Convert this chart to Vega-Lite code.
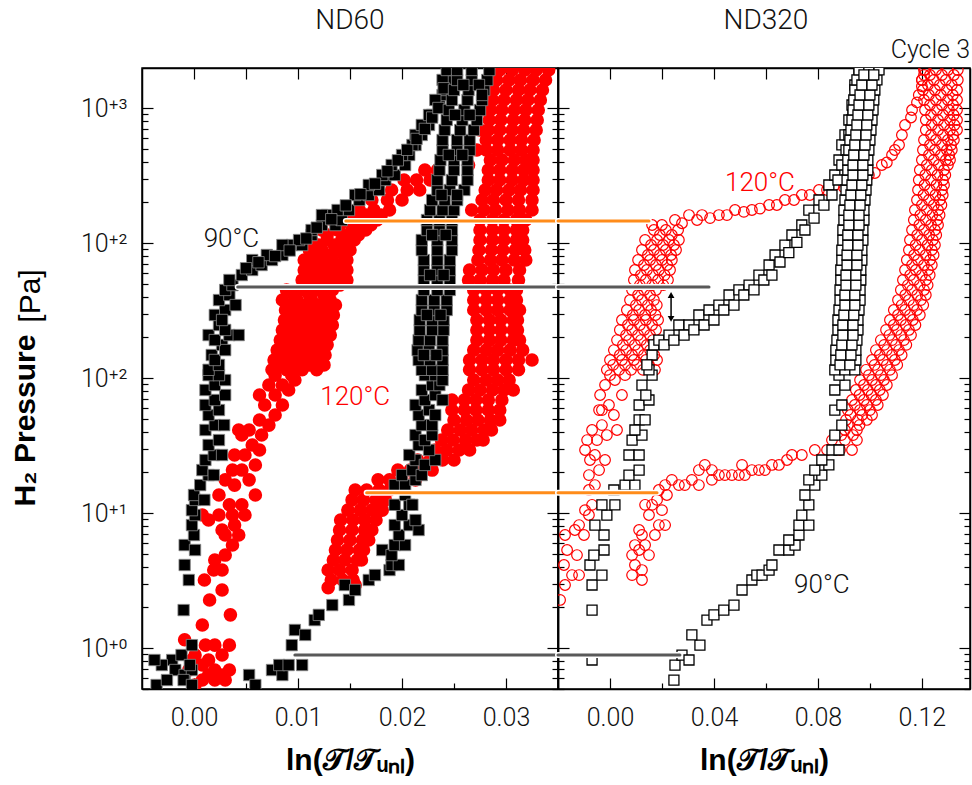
{
"$schema":"https://vega.github.io/schema/vega-lite/v6.json",
"background":"white",
"padding":{"left":9,"right":0,"top":6,"bottom":0},
"spacing":0,
"bounds":"flush",
"config":{"view":{"stroke":"black","strokeWidth":1.5},
"axis":{"grid":false,"domainColor":"black","domainWidth":1.5,"tickColor":"black","tickWidth":1.2,"labelFont":"Roboto","labelFontWeight":300,"labelFontSize":25,"labelColor":"#111111","titleFont":"Liberation Sans","titleFontWeight":"bold","titleColor":"black","labelOverlap":false,"labelFlush":false}},
"datasets":{
"nd60":[
{"T":90,"x":-0.0021,"p":0.815},{"T":90,"x":-0.0012,"p":0.887},{"T":90,"x":-0.0002,"p":1.05},{"T":90,"x":-0.0018,"p":0.687},{"T":90,"x":-0.0009,"p":0.631},{"T":90,"x":-0.0002,"p":0.687},{"T":90,"x":-0.001,"p":0.579},{"T":90,"x":-0.0002,"p":0.532},{"T":90,"x":-0.0004,"p":0.748},{"T":90,"x":-0.0036,"p":0.532},{"T":90,"x":-0.0031,"p":0.748},{"T":90,"x":-0.0026,"p":0.579},{"T":90,"x":-0.0038,"p":0.815},
{"T":90,"x":-0.001,"p":1.91},{"T":90,"x":-0.0005,"p":3.19},{"T":90,"x":-0.0009,"p":4.12},{"T":90,"x":-0.0009,"p":5.79},{"T":90,"x":0.0001,"p":5.32},{"T":90,"x":0.0,"p":6.87},{"T":90,"x":-0.0002,"p":8.14},{"T":90,"x":0.0001,"p":9.66},{"T":90,"x":-0.0002,"p":10.5},{"T":90,"x":0.0001,"p":12.5},{"T":90,"x":0.0,"p":13.6},{"T":90,"x":0.001,"p":12.5},{"T":90,"x":0.0006,"p":16.1},{"T":90,"x":0.0014,"p":19.1},{"T":90,"x":0.0008,"p":20.8},{"T":90,"x":0.0019,"p":19.1},{"T":90,"x":0.0011,"p":24.7},{"T":90,"x":0.0019,"p":26.9},{"T":90,"x":0.0027,"p":26.9},{"T":90,"x":0.0014,"p":31.9},{"T":90,"x":0.0024,"p":34.7},{"T":90,"x":0.0011,"p":41.2},{"T":90,"x":0.002,"p":44.8},{"T":90,"x":0.0029,"p":44.8},{"T":90,"x":0.0014,"p":53.2},{"T":90,"x":0.0024,"p":57.9},{"T":90,"x":0.0011,"p":63.1},{"T":90,"x":0.002,"p":68.7},{"T":90,"x":0.003,"p":74.8},{"T":90,"x":0.0011,"p":81.5},{"T":90,"x":0.002,"p":88.7},{"T":90,"x":0.003,"p":96.6},{"T":90,"x":0.0014,"p":105},{"T":90,"x":0.0024,"p":105},{"T":90,"x":0.0014,"p":115},{"T":90,"x":0.0024,"p":125},{"T":90,"x":0.0017,"p":148},{"T":90,"x":0.0027,"p":176},{"T":90,"x":0.0014,"p":208},{"T":90,"x":0.0024,"p":247},{"T":90,"x":0.0034,"p":208},{"T":90,"x":0.002,"p":293},{"T":90,"x":0.003,"p":319},{"T":90,"x":0.0043,"p":208},{"T":90,"x":0.0024,"p":378},{"T":90,"x":0.0034,"p":412},{"T":90,"x":0.003,"p":449},{"T":90,"x":0.0037,"p":488},{"T":90,"x":0.002,"p":136},{"T":90,"x":0.003,"p":161},{"T":90,"x":0.002,"p":191},{"T":90,"x":0.003,"p":227},{"T":90,"x":0.0027,"p":269},{"T":90,"x":0.004,"p":347},{"T":90,"x":0.0034,"p":532},
{"T":90,"x":0.0046,"p":579},{"T":90,"x":0.0056,"p":631},{"T":90,"x":0.0065,"p":687},{"T":90,"x":0.0075,"p":748},{"T":90,"x":0.0085,"p":815},{"T":90,"x":0.0094,"p":966},{"T":90,"x":0.0104,"p":966},{"T":90,"x":0.0113,"p":1146},{"T":90,"x":0.0123,"p":1359},{"T":90,"x":0.0128,"p":1611},{"T":90,"x":0.0136,"p":1359},{"T":90,"x":0.0142,"p":1480},{"T":90,"x":0.0149,"p":1755},{"T":90,"x":0.0159,"p":2082},{"T":90,"x":0.0168,"p":2267},{"T":90,"x":0.0178,"p":2470},{"T":90,"x":0.0184,"p":2929},{"T":90,"x":0.0193,"p":3190},{"T":90,"x":0.0203,"p":3784},{"T":90,"x":0.0207,"p":4488},{"T":90,"x":0.0213,"p":5323},{"T":90,"x":0.0219,"p":6313},{"T":90,"x":0.0226,"p":7487},{"T":90,"x":0.0229,"p":8880},{"T":90,"x":0.0236,"p":10530},{"T":90,"x":0.0239,"p":12490},{"T":90,"x":0.0241,"p":13600},{"T":90,"x":0.0248,"p":16130},{"T":90,"x":0.0251,"p":19130},
{"T":90,"x":0.0056,"p":748},{"T":90,"x":0.007,"p":815},{"T":90,"x":0.0085,"p":966},{"T":90,"x":0.0101,"p":1052},{"T":90,"x":0.0113,"p":1248},{"T":90,"x":0.0123,"p":1611},{"T":90,"x":0.0138,"p":1755},{"T":90,"x":0.0155,"p":2267},{"T":90,"x":0.0168,"p":2690},{"T":90,"x":0.0181,"p":3190},{"T":90,"x":0.019,"p":3784},{"T":90,"x":0.02,"p":4488},{"T":90,"x":0.021,"p":5323},{"T":90,"x":0.0213,"p":6313},{"T":90,"x":0.0219,"p":7487},{"T":90,"x":0.0226,"p":8880},{"T":90,"x":0.0232,"p":11470},{"T":90,"x":0.0239,"p":16130},{"T":90,"x":0.0243,"p":19130},
{"T":90,"x":0.005,"p":650},{"T":90,"x":0.0062,"p":720},{"T":90,"x":0.0078,"p":800},{"T":90,"x":0.0092,"p":880},{"T":90,"x":0.0108,"p":1080},{"T":90,"x":0.0118,"p":1300},{"T":90,"x":0.0132,"p":1500},{"T":90,"x":0.0146,"p":1900},{"T":90,"x":0.016,"p":2300},{"T":90,"x":0.0174,"p":2750},{"T":90,"x":0.0186,"p":3400},{"T":90,"x":0.0196,"p":4100},{"T":90,"x":0.0205,"p":4900},{"T":90,"x":0.0214,"p":5900},{"T":90,"x":0.0222,"p":7000},{"T":90,"x":0.0229,"p":8500},{"T":90,"x":0.0235,"p":10000},{"T":90,"x":0.024,"p":14000},
{"T":90,"x":0.0053,"p":0.631},{"T":90,"x":0.0059,"p":0.532},{"T":90,"x":0.0075,"p":0.687},{"T":90,"x":0.0085,"p":0.631},{"T":90,"x":0.0082,"p":0.748},{"T":90,"x":0.0091,"p":0.748},{"T":90,"x":0.0104,"p":0.748},{"T":90,"x":0.0094,"p":1.05},{"T":90,"x":0.0097,"p":1.36},{"T":90,"x":0.0107,"p":1.25},{"T":90,"x":0.0116,"p":1.61},{"T":90,"x":0.012,"p":1.76},{"T":90,"x":0.0133,"p":2.08},{"T":90,"x":0.0149,"p":2.27},{"T":90,"x":0.0145,"p":2.93},{"T":90,"x":0.0155,"p":2.69},{"T":90,"x":0.0168,"p":3.19},{"T":90,"x":0.0174,"p":3.47},{"T":90,"x":0.0188,"p":3.78},{"T":90,"x":0.019,"p":4.12},{"T":90,"x":0.0197,"p":4.12},{"T":90,"x":0.0181,"p":5.32},{"T":90,"x":0.019,"p":4.88},{"T":90,"x":0.0193,"p":5.79},{"T":90,"x":0.0203,"p":5.79},{"T":90,"x":0.0197,"p":6.87},{"T":90,"x":0.0207,"p":8.14},{"T":90,"x":0.0216,"p":7.48},{"T":90,"x":0.0213,"p":8.87},{"T":90,"x":0.0193,"p":8.14},{"T":90,"x":0.02,"p":9.66},{"T":90,"x":0.0207,"p":11.5},{"T":90,"x":0.0193,"p":11.5},{"T":90,"x":0.0203,"p":13.6},{"T":90,"x":0.021,"p":11.5},{"T":90,"x":0.0193,"p":16.1},{"T":90,"x":0.0203,"p":16.1},{"T":90,"x":0.0213,"p":17.6},{"T":90,"x":0.02,"p":19.1},{"T":90,"x":0.021,"p":20.8},{"T":90,"x":0.0219,"p":19.1},{"T":90,"x":0.0213,"p":24.7},{"T":90,"x":0.0222,"p":22.7},{"T":90,"x":0.0232,"p":24.7},{"T":90,"x":0.0207,"p":26.9},{"T":90,"x":0.0216,"p":31.9},{"T":90,"x":0.0226,"p":29.3},{"T":90,"x":0.0213,"p":37.8},{"T":90,"x":0.0222,"p":34.7},{"T":90,"x":0.0229,"p":37.8},{"T":90,"x":0.0219,"p":44.8},{"T":90,"x":0.0229,"p":44.8},{"T":90,"x":0.0216,"p":53.2},{"T":90,"x":0.0226,"p":57.9},{"T":90,"x":0.0232,"p":53.2},{"T":90,"x":0.0213,"p":63.1},{"T":90,"x":0.0222,"p":68.7},{"T":90,"x":0.0232,"p":74.8},{"T":90,"x":0.0239,"p":68.7},{"T":90,"x":0.0219,"p":81.5},{"T":90,"x":0.0229,"p":88.7},{"T":90,"x":0.0236,"p":88.7},{"T":90,"x":0.0222,"p":105},{"T":90,"x":0.0232,"p":105},{"T":90,"x":0.0239,"p":96.6},
{"T":90,"x":0.0219,"p":115},{"T":90,"x":0.0229,"p":115},{"T":90,"x":0.0239,"p":115},
{"T":90,"x":0.0216,"p":136},{"T":90,"x":0.0227,"p":136},{"T":90,"x":0.0239,"p":136},
{"T":90,"x":0.0215,"p":161},{"T":90,"x":0.0226,"p":161},{"T":90,"x":0.0239,"p":161},
{"T":90,"x":0.0216,"p":191},{"T":90,"x":0.0227,"p":191},{"T":90,"x":0.0239,"p":191},
{"T":90,"x":0.0217,"p":227},{"T":90,"x":0.0229,"p":227},{"T":90,"x":0.024,"p":227},
{"T":90,"x":0.0217,"p":269},{"T":90,"x":0.0229,"p":269},{"T":90,"x":0.024,"p":269},
{"T":90,"x":0.0219,"p":319},{"T":90,"x":0.0231,"p":319},{"T":90,"x":0.0243,"p":319},
{"T":90,"x":0.0219,"p":378},{"T":90,"x":0.0231,"p":378},{"T":90,"x":0.0243,"p":378},
{"T":90,"x":0.0221,"p":449},{"T":90,"x":0.0234,"p":449},{"T":90,"x":0.0246,"p":449},
{"T":90,"x":0.0221,"p":532},{"T":90,"x":0.0234,"p":532},{"T":90,"x":0.0246,"p":532},
{"T":90,"x":0.0221,"p":631},{"T":90,"x":0.0234,"p":631},{"T":90,"x":0.0246,"p":631},
{"T":90,"x":0.0221,"p":748},{"T":90,"x":0.0234,"p":748},{"T":90,"x":0.0246,"p":748},
{"T":90,"x":0.0219,"p":887},{"T":90,"x":0.0234,"p":887},{"T":90,"x":0.0248,"p":887},
{"T":90,"x":0.0219,"p":1052},{"T":90,"x":0.0234,"p":1052},{"T":90,"x":0.0248,"p":1052},
{"T":90,"x":0.0224,"p":1248},{"T":90,"x":0.0236,"p":1248},{"T":90,"x":0.0248,"p":1248},
{"T":90,"x":0.0224,"p":1480},{"T":90,"x":0.0236,"p":1480},{"T":90,"x":0.0248,"p":1480},
{"T":90,"x":0.0227,"p":1755},{"T":90,"x":0.0239,"p":1755},{"T":90,"x":0.025,"p":1755},
{"T":90,"x":0.0229,"p":2082},{"T":90,"x":0.0241,"p":2082},{"T":90,"x":0.0253,"p":2082},
{"T":90,"x":0.0234,"p":2470},{"T":90,"x":0.0246,"p":2470},{"T":90,"x":0.026,"p":2470},
{"T":90,"x":0.0234,"p":2929},{"T":90,"x":0.0248,"p":2929},{"T":90,"x":0.0263,"p":2929},
{"T":90,"x":0.0236,"p":3474},{"T":90,"x":0.025,"p":3474},{"T":90,"x":0.0263,"p":3474},
{"T":90,"x":0.0237,"p":4120},{"T":90,"x":0.025,"p":4120},{"T":90,"x":0.0263,"p":4120},
{"T":90,"x":0.0239,"p":4887},{"T":90,"x":0.0253,"p":4887},{"T":90,"x":0.0265,"p":4887},
{"T":90,"x":0.0239,"p":5796},{"T":90,"x":0.0253,"p":5796},{"T":90,"x":0.0265,"p":5796},
{"T":90,"x":0.0241,"p":6874},{"T":90,"x":0.0256,"p":6874},{"T":90,"x":0.0269,"p":6874},
{"T":90,"x":0.0243,"p":8153},{"T":90,"x":0.0258,"p":8153},{"T":90,"x":0.0272,"p":8153},
{"T":90,"x":0.0245,"p":9670},{"T":90,"x":0.026,"p":9670},{"T":90,"x":0.0275,"p":9670},
{"T":90,"x":0.0248,"p":11470},{"T":90,"x":0.0263,"p":11470},{"T":90,"x":0.0277,"p":11470},
{"T":90,"x":0.025,"p":13600},{"T":90,"x":0.0264,"p":13600},{"T":90,"x":0.0279,"p":13600},
{"T":90,"x":0.0253,"p":16130},{"T":90,"x":0.0267,"p":16130},{"T":90,"x":0.0282,"p":16130},
{"T":90,"x":0.0253,"p":19130},{"T":90,"x":0.0267,"p":19130},{"T":90,"x":0.0284,"p":19130},
{"T":90,"x":0.0221,"p":148},{"T":90,"x":0.0233,"p":148},{"T":90,"x":0.0224,"p":293},{"T":90,"x":0.0237,"p":293},{"T":90,"x":0.0227,"p":579},{"T":90,"x":0.024,"p":579},{"T":90,"x":0.0229,"p":1146},{"T":90,"x":0.0242,"p":1146},{"T":90,"x":0.0238,"p":2267},{"T":90,"x":0.0253,"p":2267},{"T":90,"x":0.0245,"p":4488},{"T":90,"x":0.0258,"p":4488},{"T":90,"x":0.0251,"p":8880},{"T":90,"x":0.0265,"p":8880},{"T":90,"x":0.0259,"p":14810},{"T":90,"x":0.0274,"p":14810},{"T":90,"x":0.0277,"p":12490},
{"T":120,"x":-0.0009,"p":1.15},{"T":120,"x":0.0011,"p":1.05},{"T":120,"x":0.002,"p":1.05},{"T":120,"x":0.0034,"p":1.05},{"T":120,"x":0.0001,"p":0.887},{"T":120,"x":0.0014,"p":0.815},{"T":120,"x":0.0027,"p":0.887},{"T":120,"x":-0.0005,"p":0.687},{"T":120,"x":0.0008,"p":0.748},{"T":120,"x":0.002,"p":0.687},{"T":120,"x":0.0034,"p":0.687},{"T":120,"x":0.0008,"p":0.579},{"T":120,"x":0.002,"p":0.579},{"T":120,"x":0.003,"p":0.579},{"T":120,"x":-0.0002,"p":0.815},{"T":120,"x":0.0014,"p":0.631},{"T":120,"x":0.0027,"p":0.631},{"T":120,"x":0.0001,"p":0.532},
{"T":120,"x":0.0008,"p":1.48},{"T":120,"x":0.0035,"p":1.76},{"T":120,"x":0.0015,"p":2.27},{"T":120,"x":0.0027,"p":2.69},{"T":120,"x":0.001,"p":3.19},{"T":120,"x":0.0019,"p":3.78},{"T":120,"x":0.0027,"p":3.78},{"T":120,"x":0.002,"p":4.49},{"T":120,"x":0.003,"p":4.88},{"T":120,"x":0.0037,"p":5.79},{"T":120,"x":0.003,"p":6.87},{"T":120,"x":0.0043,"p":6.87},{"T":120,"x":0.0027,"p":7.48},{"T":120,"x":0.0039,"p":8.14},{"T":120,"x":0.0049,"p":9.66},{"T":120,"x":0.0037,"p":9.66},{"T":120,"x":0.0024,"p":9.66},{"T":120,"x":0.0014,"p":8.87},{"T":120,"x":0.0008,"p":9.66},{"T":120,"x":0.0034,"p":11.5},{"T":120,"x":0.0046,"p":11.5},{"T":120,"x":0.0059,"p":13.6},{"T":120,"x":0.0024,"p":13.6},{"T":120,"x":0.0053,"p":17.6},{"T":120,"x":0.0039,"p":16.1},{"T":120,"x":0.003,"p":17.6},{"T":120,"x":0.0046,"p":20.8},{"T":120,"x":0.0059,"p":22.7},{"T":120,"x":0.0037,"p":20.8},{"T":120,"x":0.0049,"p":26.9},{"T":120,"x":0.0063,"p":29.3},{"T":120,"x":0.0039,"p":26.9},{"T":120,"x":0.0056,"p":31.9},{"T":120,"x":0.0046,"p":37.8},{"T":120,"x":0.0065,"p":37.8},{"T":120,"x":0.0053,"p":41.2},{"T":120,"x":0.0043,"p":41.2},{"T":120,"x":0.0072,"p":44.8},{"T":120,"x":0.0063,"p":48.9},{"T":120,"x":0.0078,"p":53.2},{"T":120,"x":0.0068,"p":63.1},{"T":120,"x":0.0085,"p":63.1},{"T":120,"x":0.0063,"p":74.8},{"T":120,"x":0.0078,"p":74.8},{"T":120,"x":0.0091,"p":81.5},{"T":120,"x":0.0072,"p":88.7},{"T":120,"x":0.0085,"p":88.7},{"T":120,"x":0.0097,"p":96.6},{"T":120,"x":0.0078,"p":105},{"T":120,"x":0.0094,"p":105},
{"T":120,"x":0.0075,"p":115},{"T":120,"x":0.0089,"p":115},{"T":120,"x":0.0104,"p":115},{"T":120,"x":0.0118,"p":115},
{"T":120,"x":0.0077,"p":136},{"T":120,"x":0.0091,"p":136},{"T":120,"x":0.0106,"p":136},{"T":120,"x":0.012,"p":136},
{"T":120,"x":0.008,"p":161},{"T":120,"x":0.0094,"p":161},{"T":120,"x":0.0109,"p":161},{"T":120,"x":0.0121,"p":161},
{"T":120,"x":0.0083,"p":191},{"T":120,"x":0.0096,"p":191},{"T":120,"x":0.0111,"p":191},{"T":120,"x":0.0123,"p":191},
{"T":120,"x":0.0085,"p":227},{"T":120,"x":0.0099,"p":227},{"T":120,"x":0.0113,"p":227},{"T":120,"x":0.0125,"p":227},
{"T":120,"x":0.0087,"p":269},{"T":120,"x":0.0101,"p":269},{"T":120,"x":0.0115,"p":269},{"T":120,"x":0.0127,"p":269},
{"T":120,"x":0.0088,"p":319},{"T":120,"x":0.0102,"p":319},{"T":120,"x":0.0116,"p":319},{"T":120,"x":0.0128,"p":319},
{"T":120,"x":0.0085,"p":378},{"T":120,"x":0.0099,"p":378},{"T":120,"x":0.0113,"p":378},{"T":120,"x":0.0131,"p":378},
{"T":120,"x":0.0089,"p":449},{"T":120,"x":0.0104,"p":449},{"T":120,"x":0.0118,"p":449},{"T":120,"x":0.0133,"p":449},
{"T":120,"x":0.0104,"p":532},{"T":120,"x":0.0118,"p":532},{"T":120,"x":0.0133,"p":532},{"T":120,"x":0.0147,"p":532},
{"T":120,"x":0.0106,"p":631},{"T":120,"x":0.0119,"p":631},{"T":120,"x":0.0133,"p":631},{"T":120,"x":0.0147,"p":631},
{"T":120,"x":0.0106,"p":748},{"T":120,"x":0.0119,"p":748},{"T":120,"x":0.0133,"p":748},{"T":120,"x":0.0147,"p":748},
{"T":120,"x":0.0111,"p":887},{"T":120,"x":0.0123,"p":887},{"T":120,"x":0.0138,"p":887},{"T":120,"x":0.015,"p":887},
{"T":120,"x":0.0113,"p":1052},{"T":120,"x":0.0128,"p":1052},{"T":120,"x":0.0142,"p":1052},{"T":120,"x":0.0154,"p":1052},
{"T":120,"x":0.0123,"p":1248},{"T":120,"x":0.0138,"p":1248},{"T":120,"x":0.0152,"p":1248},{"T":120,"x":0.0165,"p":1248},
{"T":120,"x":0.0133,"p":1480},{"T":120,"x":0.0147,"p":1480},{"T":120,"x":0.0162,"p":1480},{"T":120,"x":0.0176,"p":1480},
{"T":120,"x":0.0144,"p":1755},{"T":120,"x":0.0159,"p":1755},{"T":120,"x":0.0173,"p":1755},{"T":120,"x":0.0188,"p":1755},
{"T":120,"x":0.0171,"p":2082},{"T":120,"x":0.0186,"p":2082},{"T":120,"x":0.02,"p":2082},
{"T":120,"x":0.019,"p":2470},{"T":120,"x":0.0205,"p":2470},{"T":120,"x":0.0217,"p":2470},
{"T":120,"x":0.0202,"p":2929},{"T":120,"x":0.0214,"p":2929},{"T":120,"x":0.0227,"p":2929},
{"T":120,"x":0.0222,"p":3474},{"T":120,"x":0.0234,"p":3474},
{"T":120,"x":0.0082,"p":125},{"T":120,"x":0.0097,"p":125},{"T":120,"x":0.0111,"p":125},{"T":120,"x":0.0125,"p":125},
{"T":120,"x":0.0085,"p":148},{"T":120,"x":0.01,"p":148},{"T":120,"x":0.0114,"p":148},{"T":120,"x":0.0126,"p":148},
{"T":120,"x":0.0088,"p":176},{"T":120,"x":0.0102,"p":176},{"T":120,"x":0.0117,"p":176},{"T":120,"x":0.0128,"p":176},
{"T":120,"x":0.0091,"p":208},{"T":120,"x":0.0105,"p":208},{"T":120,"x":0.0119,"p":208},{"T":120,"x":0.0131,"p":208},
{"T":120,"x":0.0093,"p":247},{"T":120,"x":0.0107,"p":247},{"T":120,"x":0.0121,"p":247},{"T":120,"x":0.0133,"p":247},
{"T":120,"x":0.0094,"p":293},{"T":120,"x":0.0108,"p":293},{"T":120,"x":0.0122,"p":293},{"T":120,"x":0.0134,"p":293},
{"T":120,"x":0.0092,"p":347},{"T":120,"x":0.0106,"p":347},{"T":120,"x":0.012,"p":347},{"T":120,"x":0.0136,"p":347},
{"T":120,"x":0.0096,"p":412},{"T":120,"x":0.0111,"p":412},{"T":120,"x":0.0125,"p":412},
{"T":120,"x":0.011,"p":488},{"T":120,"x":0.0125,"p":488},{"T":120,"x":0.014,"p":488},
{"T":120,"x":0.0112,"p":579},{"T":120,"x":0.0126,"p":579},{"T":120,"x":0.014,"p":579},
{"T":120,"x":0.0112,"p":687},{"T":120,"x":0.0126,"p":687},{"T":120,"x":0.014,"p":687},
{"T":120,"x":0.0117,"p":815},{"T":120,"x":0.013,"p":815},{"T":120,"x":0.0144,"p":815},
{"T":120,"x":0.012,"p":966},{"T":120,"x":0.0135,"p":966},{"T":120,"x":0.0148,"p":966},
{"T":120,"x":0.0128,"p":1146},{"T":120,"x":0.0145,"p":1146},{"T":120,"x":0.0158,"p":1146},
{"T":120,"x":0.014,"p":1359},{"T":120,"x":0.0155,"p":1359},{"T":120,"x":0.017,"p":1359},
{"T":120,"x":0.0152,"p":1611},{"T":120,"x":0.0166,"p":1611},{"T":120,"x":0.018,"p":1611},
{"T":120,"x":0.0264,"p":3784},{"T":120,"x":0.0272,"p":4887},{"T":120,"x":0.0275,"p":6874},{"T":120,"x":0.028,"p":9670},{"T":120,"x":0.0284,"p":13600},{"T":120,"x":0.0287,"p":17570},
{"T":120,"x":0.0294,"p":19130},{"T":120,"x":0.0306,"p":19130},{"T":120,"x":0.0318,"p":19130},{"T":120,"x":0.0329,"p":19130},{"T":120,"x":0.0341,"p":19130},
{"T":120,"x":0.0291,"p":16130},{"T":120,"x":0.0303,"p":16130},{"T":120,"x":0.0314,"p":16130},{"T":120,"x":0.0326,"p":16130},{"T":120,"x":0.0338,"p":16130},
{"T":120,"x":0.0288,"p":13600},{"T":120,"x":0.03,"p":13600},{"T":120,"x":0.0312,"p":13600},{"T":120,"x":0.0323,"p":13600},{"T":120,"x":0.0335,"p":13600},
{"T":120,"x":0.0287,"p":11470},{"T":120,"x":0.0298,"p":11470},{"T":120,"x":0.031,"p":11470},{"T":120,"x":0.0321,"p":11470},{"T":120,"x":0.0333,"p":11470},
{"T":120,"x":0.0285,"p":9670},{"T":120,"x":0.0296,"p":9670},{"T":120,"x":0.0308,"p":9670},{"T":120,"x":0.0319,"p":9670},{"T":120,"x":0.0331,"p":9670},
{"T":120,"x":0.0284,"p":8153},{"T":120,"x":0.0295,"p":8153},{"T":120,"x":0.0307,"p":8153},{"T":120,"x":0.0318,"p":8153},{"T":120,"x":0.033,"p":8153},
{"T":120,"x":0.0283,"p":6874},{"T":120,"x":0.0294,"p":6874},{"T":120,"x":0.0306,"p":6874},{"T":120,"x":0.0317,"p":6874},{"T":120,"x":0.0329,"p":6874},
{"T":120,"x":0.0281,"p":5796},{"T":120,"x":0.0292,"p":5796},{"T":120,"x":0.0304,"p":5796},{"T":120,"x":0.0315,"p":5796},{"T":120,"x":0.0327,"p":5796},
{"T":120,"x":0.0281,"p":4887},{"T":120,"x":0.0292,"p":4887},{"T":120,"x":0.0304,"p":4887},{"T":120,"x":0.0315,"p":4887},{"T":120,"x":0.0326,"p":4887},
{"T":120,"x":0.0285,"p":4120},{"T":120,"x":0.0296,"p":4120},{"T":120,"x":0.0308,"p":4120},{"T":120,"x":0.0319,"p":4120},{"T":120,"x":0.0326,"p":4120},
{"T":120,"x":0.0283,"p":3474},{"T":120,"x":0.0294,"p":3474},{"T":120,"x":0.0306,"p":3474},{"T":120,"x":0.0317,"p":3474},{"T":120,"x":0.0326,"p":3474},
{"T":120,"x":0.0283,"p":2929},{"T":120,"x":0.0294,"p":2929},{"T":120,"x":0.0306,"p":2929},{"T":120,"x":0.0317,"p":2929},{"T":120,"x":0.0326,"p":2929},
{"T":120,"x":0.028,"p":2470},{"T":120,"x":0.0291,"p":2470},{"T":120,"x":0.0303,"p":2470},{"T":120,"x":0.0314,"p":2470},{"T":120,"x":0.0326,"p":2470},
{"T":120,"x":0.0277,"p":2082},{"T":120,"x":0.0288,"p":2082},{"T":120,"x":0.03,"p":2082},{"T":120,"x":0.0312,"p":2082},{"T":120,"x":0.0325,"p":2082},
{"T":120,"x":0.0267,"p":1755},{"T":120,"x":0.0279,"p":1755},{"T":120,"x":0.029,"p":1755},{"T":120,"x":0.0302,"p":1755},{"T":120,"x":0.0313,"p":1755},{"T":120,"x":0.0325,"p":1755},
{"T":120,"x":0.0275,"p":1480},{"T":120,"x":0.0287,"p":1480},{"T":120,"x":0.0298,"p":1480},{"T":120,"x":0.031,"p":1480},{"T":120,"x":0.0319,"p":1480},
{"T":120,"x":0.0275,"p":1248},{"T":120,"x":0.0287,"p":1248},{"T":120,"x":0.0298,"p":1248},{"T":120,"x":0.031,"p":1248},{"T":120,"x":0.0316,"p":1248},
{"T":120,"x":0.0275,"p":1052},{"T":120,"x":0.0287,"p":1052},{"T":120,"x":0.0298,"p":1052},{"T":120,"x":0.031,"p":1052},{"T":120,"x":0.0316,"p":1052},
{"T":120,"x":0.0274,"p":887},{"T":120,"x":0.0286,"p":887},{"T":120,"x":0.0297,"p":887},{"T":120,"x":0.0309,"p":887},{"T":120,"x":0.0318,"p":887},
{"T":120,"x":0.0273,"p":748},{"T":120,"x":0.0285,"p":748},{"T":120,"x":0.0296,"p":748},{"T":120,"x":0.0308,"p":748},{"T":120,"x":0.0319,"p":748},
{"T":120,"x":0.0265,"p":631},{"T":120,"x":0.0277,"p":631},{"T":120,"x":0.0288,"p":631},{"T":120,"x":0.03,"p":631},{"T":120,"x":0.0313,"p":631},
{"T":120,"x":0.0264,"p":532},{"T":120,"x":0.0275,"p":532},{"T":120,"x":0.0287,"p":532},{"T":120,"x":0.0298,"p":532},{"T":120,"x":0.0312,"p":532},
{"T":120,"x":0.0269,"p":449},{"T":120,"x":0.0281,"p":449},{"T":120,"x":0.0292,"p":449},{"T":120,"x":0.0304,"p":449},{"T":120,"x":0.031,"p":449},
{"T":120,"x":0.0269,"p":378},{"T":120,"x":0.0281,"p":378},{"T":120,"x":0.0292,"p":378},{"T":120,"x":0.0304,"p":378},{"T":120,"x":0.031,"p":378},
{"T":120,"x":0.0269,"p":319},{"T":120,"x":0.0281,"p":319},{"T":120,"x":0.0292,"p":319},{"T":120,"x":0.0304,"p":319},{"T":120,"x":0.0313,"p":319},
{"T":120,"x":0.0272,"p":269},{"T":120,"x":0.0284,"p":269},{"T":120,"x":0.0295,"p":269},{"T":120,"x":0.0307,"p":269},{"T":120,"x":0.0311,"p":269},
{"T":120,"x":0.0272,"p":227},{"T":120,"x":0.0284,"p":227},{"T":120,"x":0.0295,"p":227},{"T":120,"x":0.0307,"p":227},{"T":120,"x":0.0311,"p":227},
{"T":120,"x":0.0272,"p":191},{"T":120,"x":0.0284,"p":191},{"T":120,"x":0.0295,"p":191},{"T":120,"x":0.0307,"p":191},{"T":120,"x":0.0313,"p":191},
{"T":120,"x":0.0269,"p":161},{"T":120,"x":0.0281,"p":161},{"T":120,"x":0.0292,"p":161},{"T":120,"x":0.0304,"p":161},{"T":120,"x":0.0316,"p":161},
{"T":120,"x":0.0265,"p":136},{"T":120,"x":0.0277,"p":136},{"T":120,"x":0.0288,"p":136},{"T":120,"x":0.03,"p":136},{"T":120,"x":0.0312,"p":136},{"T":120,"x":0.0325,"p":136},
{"T":120,"x":0.0265,"p":115},{"T":120,"x":0.0277,"p":115},{"T":120,"x":0.0288,"p":115},{"T":120,"x":0.03,"p":115},{"T":120,"x":0.0312,"p":115},
{"T":120,"x":0.0269,"p":96.6},{"T":120,"x":0.0281,"p":96.6},{"T":120,"x":0.0292,"p":96.6},{"T":120,"x":0.0303,"p":96.6},
{"T":120,"x":0.0264,"p":81.5},{"T":120,"x":0.0275,"p":81.5},{"T":120,"x":0.0287,"p":81.5},{"T":120,"x":0.0298,"p":81.5},{"T":120,"x":0.0307,"p":81.5},
{"T":120,"x":0.0248,"p":68.7},{"T":120,"x":0.026,"p":68.7},{"T":120,"x":0.0271,"p":68.7},{"T":120,"x":0.0283,"p":68.7},{"T":120,"x":0.0296,"p":68.7},
{"T":120,"x":0.0248,"p":57.9},{"T":120,"x":0.026,"p":57.9},{"T":120,"x":0.0271,"p":57.9},{"T":120,"x":0.0283,"p":57.9},{"T":120,"x":0.0294,"p":57.9},
{"T":120,"x":0.025,"p":48.9},{"T":120,"x":0.0262,"p":48.9},{"T":120,"x":0.0273,"p":48.9},{"T":120,"x":0.0285,"p":48.9},{"T":120,"x":0.0294,"p":48.9},
{"T":120,"x":0.0244,"p":41.2},{"T":120,"x":0.0256,"p":41.2},{"T":120,"x":0.0267,"p":41.2},{"T":120,"x":0.0279,"p":41.2},{"T":120,"x":0.0286,"p":41.2},
{"T":120,"x":0.0238,"p":34.7},{"T":120,"x":0.0249,"p":34.7},{"T":120,"x":0.0261,"p":34.7},{"T":120,"x":0.0272,"p":34.7},{"T":120,"x":0.0278,"p":34.7},
{"T":120,"x":0.0232,"p":29.3},{"T":120,"x":0.0243,"p":29.3},{"T":120,"x":0.0255,"p":29.3},{"T":120,"x":0.0265,"p":29.3},
{"T":120,"x":0.0215,"p":24.7},{"T":120,"x":0.0227,"p":24.7},{"T":120,"x":0.0239,"p":24.7},{"T":120,"x":0.025,"p":24.7},
{"T":120,"x":0.0196,"p":20.8},{"T":120,"x":0.0208,"p":20.8},{"T":120,"x":0.0219,"p":20.8},{"T":120,"x":0.0229,"p":20.8},
{"T":120,"x":0.0177,"p":17.6},{"T":120,"x":0.0188,"p":17.6},{"T":120,"x":0.02,"p":17.6},{"T":120,"x":0.0213,"p":17.6},
{"T":120,"x":0.0155,"p":14.8},{"T":120,"x":0.0166,"p":14.8},{"T":120,"x":0.0178,"p":14.8},{"T":120,"x":0.0188,"p":14.8},
{"T":120,"x":0.0152,"p":12.5},{"T":120,"x":0.0163,"p":12.5},{"T":120,"x":0.0175,"p":12.5},{"T":120,"x":0.0184,"p":12.5},
{"T":120,"x":0.0148,"p":10.5},{"T":120,"x":0.016,"p":10.5},{"T":120,"x":0.0171,"p":10.5},{"T":120,"x":0.0181,"p":10.5},
{"T":120,"x":0.0141,"p":8.87},{"T":120,"x":0.0153,"p":8.87},{"T":120,"x":0.0164,"p":8.87},{"T":120,"x":0.0175,"p":8.87},
{"T":120,"x":0.014,"p":7.48},{"T":120,"x":0.0152,"p":7.48},{"T":120,"x":0.0164,"p":7.48},{"T":120,"x":0.0171,"p":7.48},
{"T":120,"x":0.0138,"p":6.31},{"T":120,"x":0.015,"p":6.31},{"T":120,"x":0.0162,"p":6.31},{"T":120,"x":0.0168,"p":6.31},
{"T":120,"x":0.0136,"p":5.32},{"T":120,"x":0.0147,"p":5.32},{"T":120,"x":0.0159,"p":5.32},{"T":120,"x":0.0163,"p":5.32},
{"T":120,"x":0.0134,"p":4.49},{"T":120,"x":0.0145,"p":4.49},{"T":120,"x":0.0157,"p":4.49},{"T":120,"x":0.0161,"p":4.49},
{"T":120,"x":0.0129,"p":3.78},{"T":120,"x":0.014,"p":3.78},{"T":120,"x":0.0152,"p":3.78},
{"T":120,"x":0.0132,"p":3.19},{"T":120,"x":0.0143,"p":3.19},{"T":120,"x":0.0153,"p":3.19},
{"T":120,"x":0.0129,"p":2.8},{"T":120,"x":0.0155,"p":2.93}
],
"nd320":[
{"T":90,"x":-0.0069,"p":0.815},{"T":90,"x":-0.0069,"p":1.91},{"T":90,"x":-0.0069,"p":2.93},{"T":90,"x":-0.0031,"p":3.47},{"T":90,"x":-0.0077,"p":4.12},{"T":90,"x":-0.0023,"p":5.32},{"T":90,"x":-0.0062,"p":4.88},{"T":90,"x":-0.0023,"p":6.87},{"T":90,"x":-0.0058,"p":8.14},{"T":90,"x":-0.0012,"p":9.66},{"T":90,"x":-0.0031,"p":11.5},{"T":90,"x":0.0019,"p":11.5},{"T":90,"x":0.0015,"p":14.8},{"T":90,"x":0.0058,"p":16.1},{"T":90,"x":0.0096,"p":16.1},{"T":90,"x":0.0073,"p":19.1},{"T":90,"x":0.0112,"p":20.8},{"T":90,"x":0.0073,"p":26.9},{"T":90,"x":0.0112,"p":26.9},{"T":90,"x":0.0085,"p":34.7},{"T":90,"x":0.0123,"p":37.8},{"T":90,"x":0.0112,"p":48.9},{"T":90,"x":0.0135,"p":48.9},{"T":90,"x":0.0096,"p":41.2},{"T":90,"x":0.0112,"p":63.1},{"T":90,"x":0.015,"p":68.7},{"T":90,"x":0.0123,"p":88.7},{"T":90,"x":0.0162,"p":105},{"T":90,"x":0.0138,"p":74.8},{"T":90,"x":0.015,"p":115},{"T":90,"x":0.0162,"p":148},{"T":90,"x":0.0142,"p":125},{"T":90,"x":0.0169,"p":176},
{"T":90,"x":0.0188,"p":191},{"T":90,"x":0.0227,"p":208},{"T":90,"x":0.0265,"p":247},{"T":90,"x":0.0304,"p":247},{"T":90,"x":0.0342,"p":293},{"T":90,"x":0.0381,"p":319},{"T":90,"x":0.0419,"p":347},{"T":90,"x":0.0458,"p":412},{"T":90,"x":0.0496,"p":449},{"T":90,"x":0.0535,"p":488},{"T":90,"x":0.0573,"p":579},{"T":90,"x":0.0612,"p":687},{"T":90,"x":0.0635,"p":815},{"T":90,"x":0.0673,"p":966},{"T":90,"x":0.07,"p":1146},{"T":90,"x":0.0738,"p":1359},{"T":90,"x":0.0765,"p":1755},{"T":90,"x":0.0804,"p":2082},{"T":90,"x":0.0842,"p":2690},{"T":90,"x":0.0865,"p":3190},{"T":90,"x":0.0881,"p":4120},{"T":90,"x":0.0892,"p":5323},{"T":90,"x":0.0904,"p":6313},{"T":90,"x":0.0919,"p":8153},{"T":90,"x":0.0931,"p":10530},{"T":90,"x":0.0942,"p":14810},{"T":90,"x":0.0958,"p":19130},
{"T":90,"x":0.0208,"p":176},{"T":90,"x":0.0246,"p":191},{"T":90,"x":0.0285,"p":208},{"T":90,"x":0.0323,"p":227},{"T":90,"x":0.0362,"p":247},{"T":90,"x":0.04,"p":269},{"T":90,"x":0.0438,"p":319},{"T":90,"x":0.0477,"p":347},{"T":90,"x":0.0515,"p":412},{"T":90,"x":0.0554,"p":449},{"T":90,"x":0.0592,"p":532},{"T":90,"x":0.0623,"p":579},{"T":90,"x":0.0654,"p":723},{"T":90,"x":0.0688,"p":850},{"T":90,"x":0.0719,"p":1010},{"T":90,"x":0.075,"p":1248},{"T":90,"x":0.0785,"p":1530},{"T":90,"x":0.0823,"p":1911},{"T":90,"x":0.0854,"p":2267},{"T":90,"x":0.0877,"p":2929},{"T":90,"x":0.0892,"p":3784},{"T":90,"x":0.0908,"p":4887},{"T":90,"x":0.0919,"p":6313},{"T":90,"x":0.0935,"p":8880},{"T":90,"x":0.095,"p":12490},{"T":90,"x":0.0962,"p":16130},
{"T":90,"x":0.0246,"p":0.579},{"T":90,"x":0.025,"p":0.748},{"T":90,"x":0.0277,"p":0.887},{"T":90,"x":0.0304,"p":0.815},{"T":90,"x":0.0346,"p":1.05},{"T":90,"x":0.0315,"p":1.25},{"T":90,"x":0.0373,"p":1.61},{"T":90,"x":0.04,"p":1.76},{"T":90,"x":0.0438,"p":1.91},{"T":90,"x":0.0477,"p":2.08},{"T":90,"x":0.0508,"p":2.69},{"T":90,"x":0.0546,"p":3.19},{"T":90,"x":0.0565,"p":3.47},{"T":90,"x":0.0585,"p":3.47},{"T":90,"x":0.0612,"p":3.78},{"T":90,"x":0.0623,"p":4.12},{"T":90,"x":0.065,"p":5.32},{"T":90,"x":0.0688,"p":5.32},{"T":90,"x":0.0712,"p":5.79},{"T":90,"x":0.0688,"p":6.31},{"T":90,"x":0.0727,"p":6.87},{"T":90,"x":0.0727,"p":8.14},{"T":90,"x":0.0765,"p":8.14},{"T":90,"x":0.0738,"p":9.66},{"T":90,"x":0.0765,"p":11.5},{"T":90,"x":0.075,"p":13.6},{"T":90,"x":0.0788,"p":16.1},{"T":90,"x":0.0765,"p":17.6},{"T":90,"x":0.0815,"p":19.1},{"T":90,"x":0.0788,"p":20.8},{"T":90,"x":0.0842,"p":22.7},{"T":90,"x":0.0815,"p":24.7},{"T":90,"x":0.0854,"p":29.3},{"T":90,"x":0.0881,"p":29.3},{"T":90,"x":0.0865,"p":37.8},{"T":90,"x":0.0892,"p":44.8},{"T":90,"x":0.0865,"p":57.9},{"T":90,"x":0.0892,"p":63.1},{"T":90,"x":0.0865,"p":81.5},{"T":90,"x":0.0904,"p":88.7},{"T":90,"x":0.0881,"p":105},
{"T":90,"x":0.0865,"p":115},{"T":90,"x":0.0904,"p":115},{"T":90,"x":0.0942,"p":115},
{"T":90,"x":0.0869,"p":136},{"T":90,"x":0.0908,"p":136},{"T":90,"x":0.0946,"p":136},
{"T":90,"x":0.0869,"p":161},{"T":90,"x":0.0908,"p":161},{"T":90,"x":0.0946,"p":161},
{"T":90,"x":0.0873,"p":191},{"T":90,"x":0.0912,"p":191},{"T":90,"x":0.095,"p":191},
{"T":90,"x":0.0877,"p":227},{"T":90,"x":0.0915,"p":227},{"T":90,"x":0.0954,"p":227},
{"T":90,"x":0.0877,"p":269},{"T":90,"x":0.0915,"p":269},{"T":90,"x":0.0954,"p":269},
{"T":90,"x":0.0881,"p":319},{"T":90,"x":0.0919,"p":319},{"T":90,"x":0.0958,"p":319},
{"T":90,"x":0.0885,"p":378},{"T":90,"x":0.0923,"p":378},{"T":90,"x":0.0962,"p":378},
{"T":90,"x":0.0885,"p":449},{"T":90,"x":0.0923,"p":449},{"T":90,"x":0.0962,"p":449},
{"T":90,"x":0.0888,"p":532},{"T":90,"x":0.0927,"p":532},{"T":90,"x":0.0965,"p":532},
{"T":90,"x":0.0888,"p":631},{"T":90,"x":0.0927,"p":631},{"T":90,"x":0.0965,"p":631},
{"T":90,"x":0.0892,"p":748},{"T":90,"x":0.0931,"p":748},{"T":90,"x":0.0969,"p":748},
{"T":90,"x":0.0892,"p":887},{"T":90,"x":0.0931,"p":887},{"T":90,"x":0.0969,"p":887},
{"T":90,"x":0.0896,"p":1052},{"T":90,"x":0.0935,"p":1052},{"T":90,"x":0.0973,"p":1052},
{"T":90,"x":0.0896,"p":1248},{"T":90,"x":0.0935,"p":1248},{"T":90,"x":0.0973,"p":1248},
{"T":90,"x":0.09,"p":1480},{"T":90,"x":0.0938,"p":1480},{"T":90,"x":0.0977,"p":1480},
{"T":90,"x":0.09,"p":1755},{"T":90,"x":0.0938,"p":1755},{"T":90,"x":0.0977,"p":1755},
{"T":90,"x":0.0904,"p":2082},{"T":90,"x":0.0942,"p":2082},{"T":90,"x":0.0981,"p":2082},
{"T":90,"x":0.0908,"p":2470},{"T":90,"x":0.0946,"p":2470},{"T":90,"x":0.0985,"p":2470},
{"T":90,"x":0.0912,"p":2929},{"T":90,"x":0.095,"p":2929},{"T":90,"x":0.0988,"p":2929},
{"T":90,"x":0.0915,"p":3474},{"T":90,"x":0.0954,"p":3474},{"T":90,"x":0.0992,"p":3474},
{"T":90,"x":0.0915,"p":4120},{"T":90,"x":0.0954,"p":4120},{"T":90,"x":0.0992,"p":4120},
{"T":90,"x":0.0919,"p":4887},{"T":90,"x":0.0958,"p":4887},{"T":90,"x":0.0996,"p":4887},
{"T":90,"x":0.0923,"p":5796},{"T":90,"x":0.0962,"p":5796},{"T":90,"x":0.1,"p":5796},
{"T":90,"x":0.0927,"p":6874},{"T":90,"x":0.0965,"p":6874},{"T":90,"x":0.1004,"p":6874},
{"T":90,"x":0.0931,"p":8153},{"T":90,"x":0.0969,"p":8153},{"T":90,"x":0.1008,"p":8153},
{"T":90,"x":0.0935,"p":9670},{"T":90,"x":0.0973,"p":9670},{"T":90,"x":0.1012,"p":9670},
{"T":90,"x":0.0938,"p":11470},{"T":90,"x":0.0977,"p":11470},{"T":90,"x":0.1015,"p":11470},
{"T":90,"x":0.0942,"p":13600},{"T":90,"x":0.0981,"p":13600},{"T":90,"x":0.1019,"p":13600},
{"T":90,"x":0.095,"p":16130},{"T":90,"x":0.0988,"p":16130},{"T":90,"x":0.1027,"p":16130},
{"T":90,"x":0.0958,"p":19130},{"T":90,"x":0.0996,"p":19130},{"T":90,"x":0.1035,"p":19130},
{"T":90,"x":0.0885,"p":125},{"T":90,"x":0.0923,"p":125},{"T":90,"x":0.0888,"p":148},{"T":90,"x":0.0927,"p":148},{"T":90,"x":0.0892,"p":176},{"T":90,"x":0.0931,"p":176},{"T":90,"x":0.0896,"p":208},{"T":90,"x":0.0935,"p":208},{"T":90,"x":0.0896,"p":247},{"T":90,"x":0.0935,"p":247},{"T":90,"x":0.09,"p":293},{"T":90,"x":0.0938,"p":293},{"T":90,"x":0.0904,"p":347},{"T":90,"x":0.0942,"p":347},{"T":90,"x":0.0904,"p":412},{"T":90,"x":0.0942,"p":412},{"T":90,"x":0.0908,"p":488},{"T":90,"x":0.0946,"p":488},{"T":90,"x":0.0908,"p":579},{"T":90,"x":0.0946,"p":579},{"T":90,"x":0.0912,"p":687},{"T":90,"x":0.095,"p":687},{"T":90,"x":0.0912,"p":815},{"T":90,"x":0.095,"p":815},{"T":90,"x":0.0915,"p":966},{"T":90,"x":0.0954,"p":966},{"T":90,"x":0.0915,"p":1146},{"T":90,"x":0.0954,"p":1146},{"T":90,"x":0.0919,"p":1359},{"T":90,"x":0.0958,"p":1359},{"T":90,"x":0.0919,"p":1611},{"T":90,"x":0.0958,"p":1611},{"T":90,"x":0.0923,"p":1911},{"T":90,"x":0.0962,"p":1911},{"T":90,"x":0.0927,"p":2267},{"T":90,"x":0.0965,"p":2267},{"T":90,"x":0.0931,"p":2690},{"T":90,"x":0.0969,"p":2690},{"T":90,"x":0.0935,"p":3190},{"T":90,"x":0.0973,"p":3190},{"T":90,"x":0.0935,"p":3784},{"T":90,"x":0.0973,"p":3784},{"T":90,"x":0.0938,"p":4488},{"T":90,"x":0.0977,"p":4488},{"T":90,"x":0.0942,"p":5323},{"T":90,"x":0.0981,"p":5323},{"T":90,"x":0.0946,"p":6313},{"T":90,"x":0.0985,"p":6313},{"T":90,"x":0.095,"p":7487},{"T":90,"x":0.0988,"p":7487},{"T":90,"x":0.0954,"p":8880},{"T":90,"x":0.0992,"p":8880},{"T":90,"x":0.0958,"p":10530},{"T":90,"x":0.0996,"p":10530},{"T":90,"x":0.0962,"p":12490},{"T":90,"x":0.1,"p":12490},{"T":90,"x":0.0969,"p":14810},{"T":90,"x":0.1008,"p":14810},{"T":90,"x":0.0977,"p":17570},{"T":90,"x":0.1015,"p":17570},
{"T":120,"x":-0.0192,"p":2.27},{"T":120,"x":-0.0173,"p":2.93},{"T":120,"x":-0.0177,"p":4.12},{"T":120,"x":-0.0146,"p":3.47},{"T":120,"x":-0.0119,"p":3.47},{"T":120,"x":-0.0165,"p":5.32},{"T":120,"x":-0.0127,"p":4.88},{"T":120,"x":-0.0173,"p":6.87},{"T":120,"x":-0.0135,"p":7.48},{"T":120,"x":-0.01,"p":6.87},{"T":120,"x":-0.0119,"p":8.14},{"T":120,"x":-0.0081,"p":9.66},{"T":120,"x":-0.0096,"p":10.5},{"T":120,"x":-0.0069,"p":11.5},{"T":120,"x":-0.0081,"p":14.8},{"T":120,"x":-0.0058,"p":16.1},{"T":120,"x":-0.0081,"p":19.1},{"T":120,"x":-0.0042,"p":20.8},{"T":120,"x":-0.0096,"p":29.3},{"T":120,"x":-0.0058,"p":26.9},{"T":120,"x":-0.0019,"p":24.7},{"T":120,"x":-0.0069,"p":41.2},{"T":120,"x":-0.0031,"p":44.8},{"T":120,"x":-0.0042,"p":57.9},{"T":120,"x":-0.0004,"p":63.1},{"T":120,"x":-0.0019,"p":88.7},{"T":120,"x":0.0019,"p":96.6},{"T":120,"x":0.0058,"p":105},{"T":120,"x":-0.005,"p":34.7},{"T":120,"x":-0.0012,"p":37.8},{"T":120,"x":0.0015,"p":53.2},{"T":120,"x":0.0046,"p":74.8},{"T":120,"x":-0.0038,"p":74.8},{"T":120,"x":0.0,"p":105},{"T":120,"x":-0.0031,"p":57.9},{"T":120,"x":0.0027,"p":41.2},{"T":120,"x":-0.0077,"p":24.7},{"T":120,"x":-0.0088,"p":34.7},
{"T":120,"x":-0.0012,"p":115},{"T":120,"x":0.0035,"p":115},{"T":120,"x":0.0081,"p":115},{"T":120,"x":0.0127,"p":115},{"T":120,"x":0.0173,"p":115},
{"T":120,"x":0.0,"p":136},{"T":120,"x":0.0046,"p":136},{"T":120,"x":0.0092,"p":136},{"T":120,"x":0.0138,"p":136},{"T":120,"x":0.0181,"p":136},
{"T":120,"x":0.0015,"p":161},{"T":120,"x":0.0062,"p":161},{"T":120,"x":0.0108,"p":161},{"T":120,"x":0.0154,"p":161},
{"T":120,"x":0.0027,"p":191},{"T":120,"x":0.0073,"p":191},{"T":120,"x":0.0119,"p":191},{"T":120,"x":0.0165,"p":191},
{"T":120,"x":0.0038,"p":227},{"T":120,"x":0.0085,"p":227},{"T":120,"x":0.0131,"p":227},{"T":120,"x":0.0177,"p":227},
{"T":120,"x":0.0046,"p":269},{"T":120,"x":0.0092,"p":269},{"T":120,"x":0.0138,"p":269},{"T":120,"x":0.0185,"p":269},
{"T":120,"x":0.0065,"p":319},{"T":120,"x":0.0112,"p":319},{"T":120,"x":0.0158,"p":319},
{"T":120,"x":0.0077,"p":378},{"T":120,"x":0.0123,"p":378},{"T":120,"x":0.0169,"p":378},
{"T":120,"x":0.0085,"p":449},{"T":120,"x":0.0131,"p":449},{"T":120,"x":0.0177,"p":449},
{"T":120,"x":0.0092,"p":532},{"T":120,"x":0.0138,"p":532},{"T":120,"x":0.0185,"p":532},{"T":120,"x":0.0223,"p":532},
{"T":120,"x":0.0096,"p":631},{"T":120,"x":0.0142,"p":631},{"T":120,"x":0.0188,"p":631},{"T":120,"x":0.0231,"p":631},
{"T":120,"x":0.0108,"p":748},{"T":120,"x":0.0154,"p":748},{"T":120,"x":0.02,"p":748},{"T":120,"x":0.0238,"p":748},
{"T":120,"x":0.0123,"p":887},{"T":120,"x":0.0169,"p":887},{"T":120,"x":0.0215,"p":887},{"T":120,"x":0.0254,"p":887},
{"T":120,"x":0.0135,"p":1052},{"T":120,"x":0.0181,"p":1052},{"T":120,"x":0.0227,"p":1052},{"T":120,"x":0.0265,"p":1052},
{"T":120,"x":0.0169,"p":1248},{"T":120,"x":0.0215,"p":1248},{"T":120,"x":0.0262,"p":1248},
{"T":120,"x":0.0012,"p":125},{"T":120,"x":0.0058,"p":125},{"T":120,"x":0.0104,"p":125},{"T":120,"x":0.015,"p":125},
{"T":120,"x":0.0038,"p":148},{"T":120,"x":0.0085,"p":148},{"T":120,"x":0.0131,"p":148},{"T":120,"x":0.017,"p":148},
{"T":120,"x":0.005,"p":176},{"T":120,"x":0.0096,"p":176},{"T":120,"x":0.0142,"p":176},
{"T":120,"x":0.0062,"p":208},{"T":120,"x":0.0108,"p":208},{"T":120,"x":0.0154,"p":208},
{"T":120,"x":0.0069,"p":247},{"T":120,"x":0.0115,"p":247},{"T":120,"x":0.0162,"p":247},
{"T":120,"x":0.0088,"p":293},{"T":120,"x":0.0135,"p":293},{"T":120,"x":0.0175,"p":293},
{"T":120,"x":0.01,"p":347},{"T":120,"x":0.0146,"p":347},{"T":120,"x":0.018,"p":347},
{"T":120,"x":0.0108,"p":412},{"T":120,"x":0.0154,"p":412},
{"T":120,"x":0.0115,"p":488},{"T":120,"x":0.0162,"p":488},{"T":120,"x":0.0205,"p":488},
{"T":120,"x":0.0119,"p":579},{"T":120,"x":0.0165,"p":579},{"T":120,"x":0.021,"p":579},
{"T":120,"x":0.0131,"p":687},{"T":120,"x":0.0177,"p":687},{"T":120,"x":0.022,"p":687},
{"T":120,"x":0.0146,"p":815},{"T":120,"x":0.0192,"p":815},{"T":120,"x":0.0235,"p":815},
{"T":120,"x":0.0158,"p":966},{"T":120,"x":0.0204,"p":966},{"T":120,"x":0.0246,"p":966},
{"T":120,"x":0.0192,"p":1146},{"T":120,"x":0.0238,"p":1146},
{"T":120,"x":0.0162,"p":1359},{"T":120,"x":0.02,"p":1359},{"T":120,"x":0.025,"p":1480},{"T":120,"x":0.0304,"p":1611},{"T":120,"x":0.0354,"p":1611},{"T":120,"x":0.0419,"p":1611},{"T":120,"x":0.0481,"p":1755},{"T":120,"x":0.0546,"p":1755},{"T":120,"x":0.0612,"p":1911},{"T":120,"x":0.0673,"p":2082},{"T":120,"x":0.0738,"p":2267},{"T":120,"x":0.0804,"p":2470},{"T":120,"x":0.0865,"p":2690},{"T":120,"x":0.0931,"p":2690},{"T":120,"x":0.0996,"p":3190},{"T":120,"x":0.1046,"p":3784},{"T":120,"x":0.1085,"p":4488},{"T":120,"x":0.1112,"p":5323},{"T":120,"x":0.1135,"p":7487},{"T":120,"x":0.1162,"p":9670},{"T":120,"x":0.1188,"p":12490},{"T":120,"x":0.12,"p":16130},{"T":120,"x":0.1212,"p":19130},
{"T":120,"x":0.0277,"p":1400},{"T":120,"x":0.0335,"p":1480},{"T":120,"x":0.0385,"p":1530},{"T":120,"x":0.045,"p":1611},{"T":120,"x":0.0515,"p":1700},{"T":120,"x":0.0577,"p":1800},{"T":120,"x":0.0642,"p":1911},{"T":120,"x":0.0708,"p":2082},{"T":120,"x":0.0769,"p":2267},{"T":120,"x":0.0835,"p":2470},{"T":120,"x":0.09,"p":2580},{"T":120,"x":0.0962,"p":2800},{"T":120,"x":0.1019,"p":3300},{"T":120,"x":0.1065,"p":3950},{"T":120,"x":0.1096,"p":4887},{"T":120,"x":0.1123,"p":6313},{"T":120,"x":0.1158,"p":8500},{"T":120,"x":0.1181,"p":11000},{"T":120,"x":0.12,"p":14500},{"T":120,"x":0.1208,"p":17570},
{"T":120,"x":0.1208,"p":19130},{"T":120,"x":0.1254,"p":19130},{"T":120,"x":0.13,"p":19130},{"T":120,"x":0.1338,"p":19130},
{"T":120,"x":0.12,"p":16130},{"T":120,"x":0.1246,"p":16130},{"T":120,"x":0.1292,"p":16130},{"T":120,"x":0.1338,"p":16130},
{"T":120,"x":0.1204,"p":13600},{"T":120,"x":0.125,"p":13600},{"T":120,"x":0.1296,"p":13600},{"T":120,"x":0.1335,"p":13600},
{"T":120,"x":0.1208,"p":11470},{"T":120,"x":0.1254,"p":11470},{"T":120,"x":0.13,"p":11470},{"T":120,"x":0.1335,"p":11470},
{"T":120,"x":0.1212,"p":9670},{"T":120,"x":0.1258,"p":9670},{"T":120,"x":0.1304,"p":9670},{"T":120,"x":0.1335,"p":9670},
{"T":120,"x":0.1215,"p":8153},{"T":120,"x":0.1262,"p":8153},{"T":120,"x":0.1308,"p":8153},{"T":120,"x":0.1335,"p":8153},
{"T":120,"x":0.1215,"p":6874},{"T":120,"x":0.1262,"p":6874},{"T":120,"x":0.1308,"p":6874},{"T":120,"x":0.1335,"p":6874},
{"T":120,"x":0.1208,"p":5796},{"T":120,"x":0.1254,"p":5796},{"T":120,"x":0.13,"p":5796},{"T":120,"x":0.1323,"p":5796},
{"T":120,"x":0.1204,"p":4887},{"T":120,"x":0.125,"p":4887},{"T":120,"x":0.1296,"p":4887},{"T":120,"x":0.1315,"p":4887},
{"T":120,"x":0.12,"p":4120},{"T":120,"x":0.1246,"p":4120},{"T":120,"x":0.1292,"p":4120},{"T":120,"x":0.1308,"p":4120},
{"T":120,"x":0.1192,"p":3474},{"T":120,"x":0.1238,"p":3474},{"T":120,"x":0.1285,"p":3474},
{"T":120,"x":0.1188,"p":2929},{"T":120,"x":0.1235,"p":2929},{"T":120,"x":0.1281,"p":2929},
{"T":120,"x":0.1185,"p":2470},{"T":120,"x":0.1231,"p":2470},{"T":120,"x":0.1277,"p":2470},
{"T":120,"x":0.1181,"p":2082},{"T":120,"x":0.1227,"p":2082},{"T":120,"x":0.1269,"p":2082},
{"T":120,"x":0.1173,"p":1755},{"T":120,"x":0.1219,"p":1755},{"T":120,"x":0.1262,"p":1755},
{"T":120,"x":0.1169,"p":1480},{"T":120,"x":0.1215,"p":1480},{"T":120,"x":0.1258,"p":1480},
{"T":120,"x":0.1162,"p":1248},{"T":120,"x":0.1208,"p":1248},{"T":120,"x":0.125,"p":1248},
{"T":120,"x":0.1154,"p":1052},{"T":120,"x":0.12,"p":1052},{"T":120,"x":0.1242,"p":1052},
{"T":120,"x":0.115,"p":887},{"T":120,"x":0.1192,"p":887},{"T":120,"x":0.1238,"p":887},
{"T":120,"x":0.1142,"p":748},{"T":120,"x":0.1185,"p":748},{"T":120,"x":0.1231,"p":748},
{"T":120,"x":0.1135,"p":631},{"T":120,"x":0.1177,"p":631},{"T":120,"x":0.1223,"p":631},
{"T":120,"x":0.1127,"p":532},{"T":120,"x":0.1169,"p":532},{"T":120,"x":0.1215,"p":532},
{"T":120,"x":0.1119,"p":449},{"T":120,"x":0.1162,"p":449},{"T":120,"x":0.1208,"p":449},
{"T":120,"x":0.1108,"p":378},{"T":120,"x":0.115,"p":378},{"T":120,"x":0.1196,"p":378},
{"T":120,"x":0.1092,"p":319},{"T":120,"x":0.1135,"p":319},{"T":120,"x":0.1181,"p":319},
{"T":120,"x":0.1077,"p":269},{"T":120,"x":0.1119,"p":269},{"T":120,"x":0.1165,"p":269},
{"T":120,"x":0.1062,"p":227},{"T":120,"x":0.1104,"p":227},{"T":120,"x":0.115,"p":227},
{"T":120,"x":0.1042,"p":191},{"T":120,"x":0.1085,"p":191},{"T":120,"x":0.1131,"p":191},
{"T":120,"x":0.1023,"p":161},{"T":120,"x":0.1065,"p":161},{"T":120,"x":0.1112,"p":161},
{"T":120,"x":0.1008,"p":136},{"T":120,"x":0.105,"p":136},{"T":120,"x":0.1096,"p":136},
{"T":120,"x":0.0985,"p":115},{"T":120,"x":0.1031,"p":115},{"T":120,"x":0.1077,"p":115},
{"T":120,"x":0.0962,"p":96.6},{"T":120,"x":0.1008,"p":96.6},{"T":120,"x":0.1054,"p":96.6},
{"T":120,"x":0.0946,"p":81.5},{"T":120,"x":0.0992,"p":81.5},{"T":120,"x":0.1038,"p":81.5},
{"T":120,"x":0.0931,"p":68.7},{"T":120,"x":0.0977,"p":68.7},{"T":120,"x":0.1023,"p":68.7},
{"T":120,"x":0.0915,"p":57.9},{"T":120,"x":0.0962,"p":57.9},{"T":120,"x":0.1,"p":57.9},
{"T":120,"x":0.0908,"p":48.9},{"T":120,"x":0.0954,"p":48.9},{"T":120,"x":0.0988,"p":48.9},
{"T":120,"x":0.0904,"p":41.2},{"T":120,"x":0.095,"p":41.2},
{"T":120,"x":0.1231,"p":17570},{"T":120,"x":0.1277,"p":17570},{"T":120,"x":0.1323,"p":17570},
{"T":120,"x":0.1223,"p":14810},{"T":120,"x":0.1269,"p":14810},{"T":120,"x":0.1315,"p":14810},
{"T":120,"x":0.1227,"p":12490},{"T":120,"x":0.1273,"p":12490},{"T":120,"x":0.1319,"p":12490},
{"T":120,"x":0.1231,"p":10530},{"T":120,"x":0.1277,"p":10530},{"T":120,"x":0.132,"p":10530},
{"T":120,"x":0.1235,"p":8880},{"T":120,"x":0.1281,"p":8880},{"T":120,"x":0.1322,"p":8880},
{"T":120,"x":0.1238,"p":7487},{"T":120,"x":0.1285,"p":7487},{"T":120,"x":0.1325,"p":7487},
{"T":120,"x":0.1235,"p":6313},{"T":120,"x":0.1281,"p":6313},{"T":120,"x":0.132,"p":6313},
{"T":120,"x":0.1231,"p":5323},{"T":120,"x":0.1277,"p":5323},{"T":120,"x":0.1312,"p":5323},
{"T":120,"x":0.1227,"p":4488},{"T":120,"x":0.1273,"p":4488},{"T":120,"x":0.1305,"p":4488},
{"T":120,"x":0.1219,"p":3784},{"T":120,"x":0.1265,"p":3784},{"T":120,"x":0.13,"p":3784},
{"T":120,"x":0.1213,"p":3190},{"T":120,"x":0.126,"p":3190},{"T":120,"x":0.129,"p":3190},
{"T":120,"x":0.121,"p":2690},{"T":120,"x":0.1256,"p":2690},{"T":120,"x":0.1285,"p":2690},
{"T":120,"x":0.1206,"p":2267},{"T":120,"x":0.1252,"p":2267},{"T":120,"x":0.128,"p":2267},
{"T":120,"x":0.12,"p":1911},{"T":120,"x":0.1246,"p":1911},{"T":120,"x":0.1275,"p":1911},
{"T":120,"x":0.1194,"p":1611},{"T":120,"x":0.124,"p":1611},{"T":120,"x":0.1268,"p":1611},
{"T":120,"x":0.119,"p":1359},{"T":120,"x":0.1235,"p":1359},{"T":120,"x":0.1262,"p":1359},
{"T":120,"x":0.1182,"p":1146},{"T":120,"x":0.1228,"p":1146},{"T":120,"x":0.1255,"p":1146},
{"T":120,"x":0.1176,"p":966},{"T":120,"x":0.1222,"p":966},{"T":120,"x":0.125,"p":966},
{"T":120,"x":0.117,"p":815},{"T":120,"x":0.1215,"p":815},{"T":120,"x":0.1245,"p":815},
{"T":120,"x":0.1162,"p":687},{"T":120,"x":0.1208,"p":687},{"T":120,"x":0.1238,"p":687},
{"T":120,"x":0.1155,"p":579},{"T":120,"x":0.12,"p":579},{"T":120,"x":0.123,"p":579},
{"T":120,"x":0.1146,"p":488},{"T":120,"x":0.1192,"p":488},{"T":120,"x":0.1222,"p":488},
{"T":120,"x":0.1136,"p":412},{"T":120,"x":0.1182,"p":412},{"T":120,"x":0.1215,"p":412},
{"T":120,"x":0.1122,"p":347},{"T":120,"x":0.1168,"p":347},{"T":120,"x":0.1205,"p":347},
{"T":120,"x":0.1108,"p":293},{"T":120,"x":0.1154,"p":293},{"T":120,"x":0.1192,"p":293},
{"T":120,"x":0.1092,"p":247},{"T":120,"x":0.1138,"p":247},{"T":120,"x":0.1175,"p":247},
{"T":120,"x":0.1075,"p":208},{"T":120,"x":0.112,"p":208},{"T":120,"x":0.1158,"p":208},
{"T":120,"x":0.1055,"p":176},{"T":120,"x":0.11,"p":176},{"T":120,"x":0.114,"p":176},
{"T":120,"x":0.1038,"p":148},{"T":120,"x":0.1085,"p":148},{"T":120,"x":0.1122,"p":148},
{"T":120,"x":0.1018,"p":125},{"T":120,"x":0.1065,"p":125},{"T":120,"x":0.1105,"p":125},
{"T":120,"x":0.0996,"p":105},{"T":120,"x":0.1042,"p":105},{"T":120,"x":0.1085,"p":105},
{"T":120,"x":0.0977,"p":88.7},{"T":120,"x":0.1023,"p":88.7},{"T":120,"x":0.1065,"p":88.7},
{"T":120,"x":0.096,"p":74.8},{"T":120,"x":0.1006,"p":74.8},{"T":120,"x":0.105,"p":74.8},
{"T":120,"x":0.0942,"p":63.1},{"T":120,"x":0.0988,"p":63.1},{"T":120,"x":0.103,"p":63.1},
{"T":120,"x":0.0925,"p":53.2},{"T":120,"x":0.097,"p":53.2},{"T":120,"x":0.1008,"p":53.2},
{"T":120,"x":0.0915,"p":44.8},{"T":120,"x":0.096,"p":44.8},
{"T":120,"x":0.089,"p":37.8},{"T":120,"x":0.0935,"p":37.8},
{"T":120,"x":0.0854,"p":34.7},{"T":120,"x":0.0904,"p":34.7},{"T":120,"x":0.095,"p":34.7},
{"T":120,"x":0.0788,"p":29.3},{"T":120,"x":0.0835,"p":29.3},{"T":120,"x":0.0885,"p":29.3},{"T":120,"x":0.0931,"p":29.3},
{"T":120,"x":0.07,"p":26.9},{"T":120,"x":0.0738,"p":26.9},{"T":120,"x":0.065,"p":22.7},{"T":120,"x":0.0596,"p":20.8},{"T":120,"x":0.0546,"p":20.8},{"T":120,"x":0.0496,"p":19.1},{"T":120,"x":0.0442,"p":19.1},{"T":120,"x":0.0392,"p":17.6},{"T":120,"x":0.0342,"p":20.8},{"T":120,"x":0.0315,"p":17.6},{"T":120,"x":0.0265,"p":16.1},{"T":120,"x":0.0212,"p":16.1},{"T":120,"x":0.0188,"p":14.8},
{"T":120,"x":0.0681,"p":24.7},{"T":120,"x":0.0623,"p":22.7},{"T":120,"x":0.0573,"p":20.8},{"T":120,"x":0.0519,"p":19.1},{"T":120,"x":0.0469,"p":19.1},{"T":120,"x":0.0419,"p":19.1},{"T":120,"x":0.0365,"p":22.7},{"T":120,"x":0.0342,"p":16.1},{"T":120,"x":0.0288,"p":16.1},{"T":120,"x":0.0238,"p":17.6},{"T":120,"x":0.0392,"p":20.8},{"T":120,"x":0.0508,"p":22.7},
{"T":120,"x":0.0162,"p":11.5},{"T":120,"x":0.02,"p":10.5},{"T":120,"x":0.015,"p":9.66},{"T":120,"x":0.0188,"p":8.14},{"T":120,"x":0.0123,"p":6.87},{"T":120,"x":0.0173,"p":6.87},{"T":120,"x":0.0135,"p":5.79},{"T":120,"x":0.0112,"p":5.32},{"T":120,"x":0.015,"p":4.88},{"T":120,"x":0.0096,"p":4.12},{"T":120,"x":0.0123,"p":3.78},{"T":120,"x":0.0085,"p":3.47},{"T":120,"x":0.0123,"p":3.19},{"T":120,"x":0.0135,"p":11.5},{"T":120,"x":0.0212,"p":8.14},{"T":120,"x":0.0112,"p":7.48},{"T":120,"x":0.0096,"p":5.79},{"T":120,"x":0.0085,"p":4.88},{"T":120,"x":0.0181,"p":12.5},{"T":120,"x":0.0219,"p":13.6}
],
"lines60":[{"T":120,"x":0.0146,"x2":0.035,"p":1456},{"T":90,"x":0.0042,"x2":0.035,"p":472},{"T":120,"x":0.0166,"x2":0.035,"p":14.1},{"T":90,"x":0.0097,"x2":0.035,"p":0.887}],
"lines320":[{"T":120,"x":-0.02,"x2":0.015,"p":1456},{"T":90,"x":-0.02,"x2":0.0381,"p":472},{"T":120,"x":-0.02,"x2":0.0181,"p":14.1},{"T":90,"x":-0.02,"x2":0.0269,"p":0.887}],
"labels60":[{"t":"90°C","T":90,"x":0.0036,"p":1071},{"t":"120°C","T":120,"x":0.0155,"p":72.3}],
"labels320":[{"t":"120°C","T":120,"x":0.0577,"p":2782},{"t":"90°C","T":90,"x":0.0815,"p":2.93}],
"head60":[{"t":"ND60","x":0.015,"p":44110}],
"unit60":[{"t":"[Pa]","x":-0.0148,"p":405}],
"head320":[{"t":"ND320","x":0.06,"p":44110}],
"cycle":[{"t":"Cycle 3","x":0.1385,"p":26890}],
"arrow":[{"x":0.0235,"h1":274,"h2":412}]
},
"hconcat":[
{
"width":416,"height":621,
"resolve":{"axis":{"x":"independent","y":"independent"},"scale":{"color":"independent"}},
"layer":[
{"data":{"name":"nd60"},"transform":[{"filter":"datum.T==120"}],
"mark":{"type":"point","shape":"circle","filled":true,"color":"#ff0000","size":185,"opacity":1,"clip":true},
"encoding":{
"x":{"field":"x","type":"quantitative","scale":{"domain":[-0.005,0.035],"nice":false,"zero":false},
"axis":{"orient":"bottom","values":[0,0.005,0.01,0.015,0.02,0.025,0.03],"labelExpr":"abs(datum.value*100-round(datum.value*100))<0.001?format(datum.value,'.2f'):''","tickSize":{"condition":{"test":"abs(datum.value*100-round(datum.value*100))<0.001","value":-11},"value":-6},"labelPadding":27,"title":"ln(𝒯/𝒯ᵤₙₗ)","titleFontSize":30,"titlePadding":10}},
"y":{"field":"p","type":"quantitative","scale":{"type":"log","domain":[0.497,19785],"nice":false},
"axis":{"orient":"left","values":[0.5,0.6,0.7,0.8,0.9,1,2,3,4,5,6,7,8,9,10,20,30,40,50,60,70,80,90,100,200,300,400,500,600,700,800,900,1000,2000,3000,4000,5000,6000,7000,8000,9000,10000],"labelExpr":"datum.value==1?'10⁺⁰':datum.value==10?'10⁺¹':datum.value==100?'10⁺²':datum.value==1000?'10⁺²':datum.value==10000?'10⁺³':''","tickSize":{"condition":{"test":"datum.value==1||datum.value==10||datum.value==100||datum.value==1000||datum.value==10000","value":-11},"value":-6},"labelPadding":26,"title":"H₂ Pressure","titleFontSize":30,"titlePadding":40,"titleY":352}}}},
{"data":{"name":"nd60"},"transform":[{"filter":"datum.T==90"}],
"mark":{"type":"point","shape":"square","filled":true,"fill":"black","stroke":"#8a8a8a","strokeWidth":0.8,"size":130,"opacity":1,"clip":true},
"encoding":{
"x":{"field":"x","type":"quantitative","axis":{"orient":"top","values":[0,0.005,0.01,0.015,0.02,0.025,0.03],"labels":false,"title":null,"tickSize":-11}},
"y":{"field":"p","type":"quantitative","axis":{"orient":"right","values":[0.5,0.6,0.7,0.8,0.9,1,2,3,4,5,6,7,8,9,10,20,30,40,50,60,70,80,90,100,200,300,400,500,600,700,800,900,1000,2000,3000,4000,5000,6000,7000,8000,9000,10000],"labels":false,"title":null,"tickSize":{"condition":{"test":"datum.value==1||datum.value==10||datum.value==100||datum.value==1000||datum.value==10000","value":-11},"value":-6}}}}},
{"data":{"name":"lines60"},"mark":{"type":"rule","color":"white","strokeWidth":6,"strokeCap":"round"},
"encoding":{"x":{"field":"x","type":"quantitative","axis":null},"x2":{"field":"x2"},"y":{"field":"p","type":"quantitative","axis":null}}},
{"data":{"name":"lines60"},"mark":{"type":"rule","strokeWidth":3,"strokeCap":"round"},
"encoding":{"x":{"field":"x","type":"quantitative","axis":null},"x2":{"field":"x2"},"y":{"field":"p","type":"quantitative","axis":null},"color":{"field":"T","type":"nominal","scale":{"domain":[120,90],"range":["#ff8c1a","#595959"]},"legend":null}}},
{"data":{"name":"labels60"},"mark":{"type":"text","font":"Roboto","fontWeight":300,"fontSize":26,"align":"center","baseline":"middle"},
"encoding":{"x":{"field":"x","type":"quantitative","axis":null},"y":{"field":"p","type":"quantitative","axis":null},"text":{"field":"t"},"color":{"field":"T","type":"nominal","scale":{"domain":[90,120],"range":["#111111","#ff0000"]},"legend":null}}},
{"data":{"name":"head60"},"mark":{"type":"text","font":"Roboto","fontWeight":300,"fontSize":28,"align":"center","baseline":"middle","color":"#111111"},
"encoding":{"x":{"field":"x","type":"quantitative","axis":null},"y":{"field":"p","type":"quantitative","axis":null},"text":{"field":"t"}}},
{"data":{"name":"unit60"},"mark":{"type":"text","font":"Liberation Sans","fontWeight":"normal","fontSize":30,"angle":270,"align":"center","baseline":"alphabetic","color":"black"},
"encoding":{"x":{"field":"x","type":"quantitative","axis":null},"y":{"field":"p","type":"quantitative","axis":null},"text":{"field":"t"}}}
]
},
{
"width":412,"height":621,
"resolve":{"axis":{"x":"independent","y":"independent"},"scale":{"color":"independent"}},
"layer":[
{"data":{"name":"nd320"},"transform":[{"filter":"datum.T==120"}],
"mark":{"type":"point","shape":"circle","filled":false,"color":"#ff0000","strokeWidth":1.2,"size":113,"opacity":1,"clip":true},
"encoding":{
"x":{"field":"x","type":"quantitative","scale":{"domain":[-0.02,0.1385],"nice":false,"zero":false},
"axis":{"orient":"bottom","values":[0,0.02,0.04,0.06,0.08,0.1,0.12],"labelExpr":"abs(datum.value*25-round(datum.value*25))<0.001?format(datum.value,'.2f'):''","tickSize":{"condition":{"test":"abs(datum.value*25-round(datum.value*25))<0.001","value":-11},"value":-6},"labelPadding":27,"title":"ln(𝒯/𝒯ᵤₙₗ)","titleFontSize":30,"titlePadding":10}},
"y":{"field":"p","type":"quantitative","scale":{"type":"log","domain":[0.497,19785],"nice":false},
"axis":{"orient":"left","values":[0.5,0.6,0.7,0.8,0.9,1,2,3,4,5,6,7,8,9,10,20,30,40,50,60,70,80,90,100,200,300,400,500,600,700,800,900,1000,2000,3000,4000,5000,6000,7000,8000,9000,10000],"labels":false,"title":null,"tickSize":{"condition":{"test":"datum.value==1||datum.value==10||datum.value==100||datum.value==1000||datum.value==10000","value":-11},"value":-6}}}}},
{"data":{"name":"nd320"},"transform":[{"filter":"datum.T==90"}],
"mark":{"type":"point","shape":"square","filled":true,"fill":"white","stroke":"black","strokeWidth":1.3,"size":100,"opacity":1,"clip":true},
"encoding":{
"x":{"field":"x","type":"quantitative","axis":{"orient":"top","values":[0,0.02,0.04,0.06,0.08,0.1,0.12],"labels":false,"title":null,"tickSize":-11}},
"y":{"field":"p","type":"quantitative","axis":{"orient":"right","values":[0.5,0.6,0.7,0.8,0.9,1,2,3,4,5,6,7,8,9,10,20,30,40,50,60,70,80,90,100,200,300,400,500,600,700,800,900,1000,2000,3000,4000,5000,6000,7000,8000,9000,10000],"labels":false,"title":null,"tickSize":{"condition":{"test":"datum.value==1||datum.value==10||datum.value==100||datum.value==1000||datum.value==10000","value":-11},"value":-6}}}}},
{"data":{"name":"lines320"},"mark":{"type":"rule","color":"white","strokeWidth":6,"strokeCap":"round"},
"encoding":{"x":{"field":"x","type":"quantitative","axis":null},"x2":{"field":"x2"},"y":{"field":"p","type":"quantitative","axis":null}}},
{"data":{"name":"lines320"},"mark":{"type":"rule","strokeWidth":3,"strokeCap":"round"},
"encoding":{"x":{"field":"x","type":"quantitative","axis":null},"x2":{"field":"x2"},"y":{"field":"p","type":"quantitative","axis":null},"color":{"field":"T","type":"nominal","scale":{"domain":[120,90],"range":["#ff8c1a","#595959"]},"legend":null}}},
{"data":{"name":"arrow"},"mark":{"type":"rule","color":"black","strokeWidth":1.5},
"encoding":{"x":{"field":"x","type":"quantitative","axis":null},"y":{"field":"h1","type":"quantitative","axis":null},"y2":{"field":"h2"}}},
{"data":{"name":"arrow"},"mark":{"type":"point","shape":"triangle-up","filled":true,"color":"black","size":45,"opacity":1},
"encoding":{"x":{"field":"x","type":"quantitative","axis":null},"y":{"field":"h2","type":"quantitative","axis":null}}},
{"data":{"name":"arrow"},"mark":{"type":"point","shape":"triangle-down","filled":true,"color":"black","size":45,"opacity":1},
"encoding":{"x":{"field":"x","type":"quantitative","axis":null},"y":{"field":"h1","type":"quantitative","axis":null}}},
{"data":{"name":"labels320"},"mark":{"type":"text","font":"Roboto","fontWeight":300,"fontSize":26,"align":"center","baseline":"middle"},
"encoding":{"x":{"field":"x","type":"quantitative","axis":null},"y":{"field":"p","type":"quantitative","axis":null},"text":{"field":"t"},"color":{"field":"T","type":"nominal","scale":{"domain":[90,120],"range":["#111111","#ff0000"]},"legend":null}}},
{"data":{"name":"head320"},"mark":{"type":"text","font":"Roboto","fontWeight":300,"fontSize":28,"align":"center","baseline":"middle","color":"#111111"},
"encoding":{"x":{"field":"x","type":"quantitative","axis":null},"y":{"field":"p","type":"quantitative","axis":null},"text":{"field":"t"}}},
{"data":{"name":"cycle"},"mark":{"type":"text","font":"Roboto","fontWeight":300,"fontSize":25,"align":"right","baseline":"middle","color":"#111111"},
"encoding":{"x":{"field":"x","type":"quantitative","axis":null},"y":{"field":"p","type":"quantitative","axis":null},"text":{"field":"t"}}}
]
}
]
}
